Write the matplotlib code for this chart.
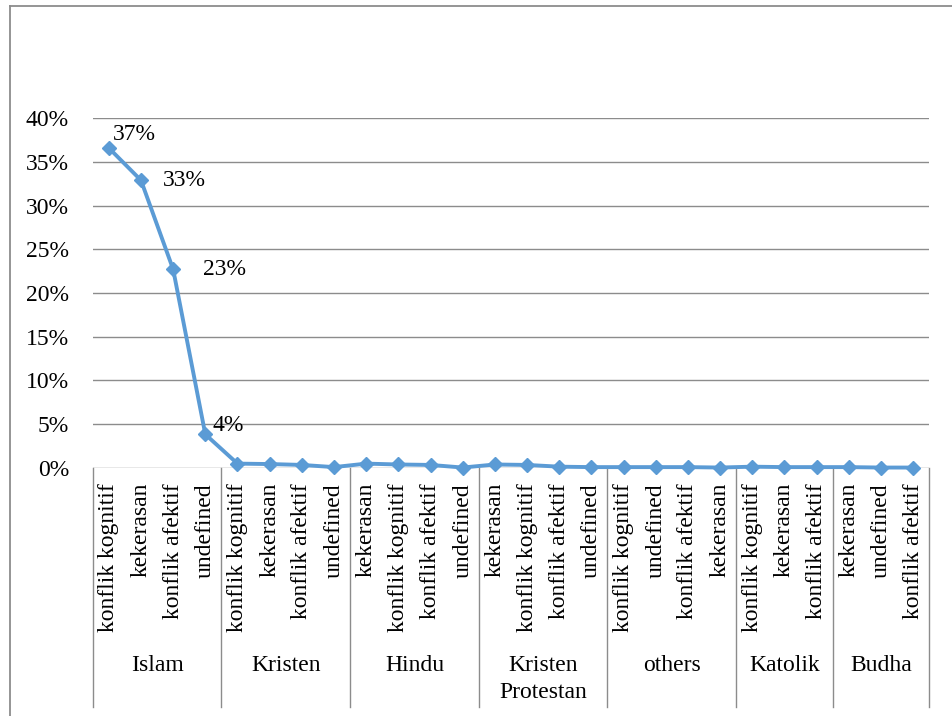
import numpy as np
import matplotlib.pyplot as plt
from matplotlib.lines import Line2D

plt.rcParams['font.family'] = ['Liberation Serif', 'DejaVu Serif']

# groups (religion) and the conflict types inside each
groups = ['Islam', 'Kristen', 'Hindu', 'Kristen\nProtestan', 'others', 'Katolik', 'Budha']
types = [
    ['konflik kognitif', 'kekerasan', 'konflik afektif', 'undefined'],
    ['konflik kognitif', 'kekerasan', 'konflik afektif', 'undefined'],
    ['kekerasan', 'konflik kognitif', 'konflik afektif', 'undefined'],
    ['kekerasan', 'konflik kognitif', 'konflik afektif', 'undefined'],
    ['konflik kognitif', 'undefined', 'konflik afektif', 'kekerasan'],
    ['konflik kognitif', 'kekerasan', 'konflik afektif'],
    ['kekerasan', 'undefined', 'konflik afektif'],
]
values = [
    [0.366, 0.329, 0.227, 0.038],
    [0.0045, 0.004, 0.003, 0.0005],
    [0.0045, 0.0035, 0.003, 0.0],
    [0.0035, 0.003, 0.001, 0.0005],
    [0.0005, 0.0005, 0.0005, 0.0],
    [0.001, 0.0005, 0.0005],
    [0.0005, 0.0, 0.0],
]
labels_shown = ['37%', '33%', '23%', '4%']
label_offsets = [(4, 13), (22, 0), (30, 0), (7, 9)]

cats = [t for g in types for t in g]
y = [v for g in values for v in g]
x = np.arange(len(cats))

FS = 17

fig = plt.figure(figsize=(9.52, 7.16), dpi=100)
ax = fig.add_axes([0.0974, 0.347, 0.8786, 0.4878])

for v in np.arange(0, 0.401, 0.05):
    ax.axhline(v, color='#8c8c8c', lw=1, zorder=1)

ax.plot(x, y, color='#5b9bd5', lw=2.8, marker='D', markersize=7.5, zorder=3, clip_on=False)

for i, (txt, off) in enumerate(zip(labels_shown, label_offsets)):
    ax.annotate(txt, (x[i], y[i]), xytext=off, textcoords='offset pixels',
                ha='left', va='center', fontsize=FS)

ax.set_xlim(-0.5, len(cats) - 0.5)
ax.set_ylim(0, 0.4)
ax.set_yticks(np.arange(0, 0.401, 0.05))
ax.set_yticklabels(['%d%%' % round(v * 100) for v in np.arange(0, 0.401, 0.05)], fontsize=FS)
ax.tick_params(axis='y', length=0, pad=17)
ax.set_xticks([])
for s in ax.spines.values():
    s.set_visible(False)

tr = ax.get_xaxis_transform()
for i, c in enumerate(cats):
    ax.text(i, -0.044, c, rotation=90, ha='center', va='top', fontsize=FS, transform=tr)

start = -0.5
ax.plot([start, start], [0, -0.686], color='#8c8c8c', lw=1, transform=tr, clip_on=False)
for g, t in zip(groups, types):
    end = start + len(t)
    ax.plot([end, end], [0, -0.686], color='#8c8c8c', lw=1, transform=tr, clip_on=False)
    ax.text((start + end) / 2, -0.538, g, ha='center', va='top', fontsize=FS,
            linespacing=1.35, transform=tr)
    start = end

# outer chart border (left and top only visible)
fig.add_artist(Line2D([0.011, 0.011], [0, 0.9916], color='#8c8c8c', lw=1.3, transform=fig.transFigure))
fig.add_artist(Line2D([0.011, 1], [0.9916, 0.9916], color='#8c8c8c', lw=1.3, transform=fig.transFigure))

fig.savefig('out.png', dpi=100)
